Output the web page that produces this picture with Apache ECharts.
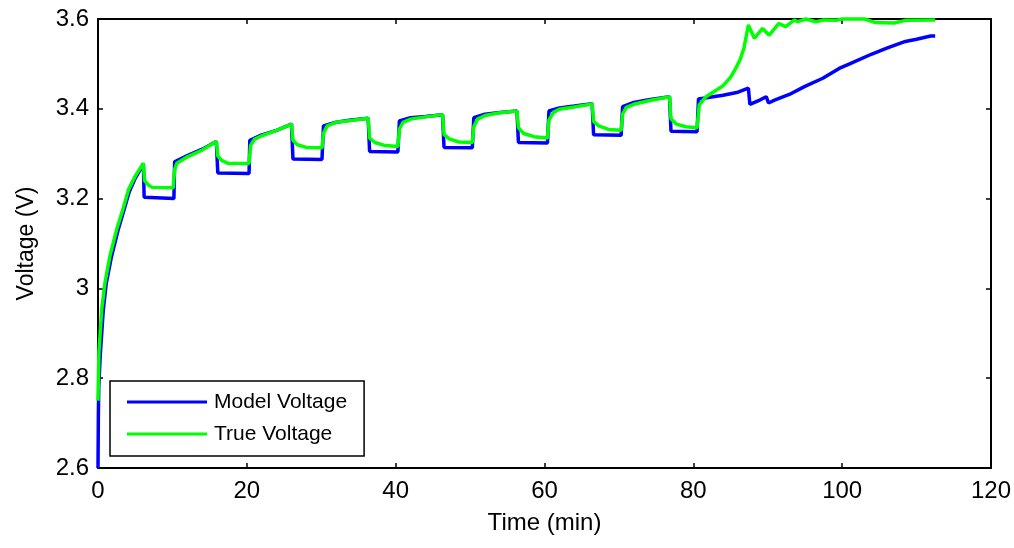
<!DOCTYPE html>
<html>
<head>
<meta charset="utf-8">
<script src="https://cdn.jsdelivr.net/npm/echarts@6/dist/echarts.min.js"></script>
<style>
html,body{margin:0;padding:0;background:#fff;}
#chart{width:1014px;height:548px;}
</style>
</head>
<body>
<div id="chart"></div>
<script>
// ---- Data ----
const seriesNames = ['Model Voltage', 'True Voltage'];

const modelTime = [0, 0.05, 0.1, 0.3, 0.7, 1.1, 1.8, 2.7, 3.5, 4.2, 5.0, 6.1,
  6.2, 10.2, 10.3, 12, 14, 15.9,
  16.1, 20.3, 20.4, 22, 24, 26,
  26.2, 30.1, 30.3, 32, 34, 36.3,
  36.5, 40.3, 40.5, 42, 44, 46.3,
  46.5, 50.3, 50.5, 52, 54, 56.3,
  56.5, 60.4, 60.6, 62, 64, 66.4,
  66.6, 70.3, 70.5, 72, 74, 76.8,
  77.0, 80.5, 80.7, 82, 84, 86, 87.4, 87.6, 89.0, 89.8, 90.1, 91, 92.9,
  95, 97.4, 99.6, 101, 104, 106, 108.5, 110, 111.9, 112.5];
const modelVolt = [2.6, 2.72, 2.78, 2.85, 2.95, 3.01, 3.07, 3.13, 3.175, 3.215, 3.245, 3.277,
  3.203, 3.2, 3.282, 3.296, 3.31, 3.327,
  3.257, 3.256, 3.33, 3.342, 3.352, 3.366,
  3.288, 3.287, 3.362, 3.37, 3.375, 3.379,
  3.305, 3.304, 3.373, 3.38, 3.383, 3.387,
  3.314, 3.313, 3.38, 3.388, 3.392, 3.395,
  3.325, 3.324, 3.395, 3.402, 3.406, 3.411,
  3.342, 3.341, 3.405, 3.414, 3.42, 3.427,
  3.35, 3.349, 3.422, 3.425, 3.43, 3.437, 3.446, 3.41, 3.42, 3.427, 3.413, 3.42, 3.432,
  3.45, 3.468, 3.49, 3.5, 3.522, 3.535, 3.55, 3.555, 3.562, 3.562];

const trueTime = [0, 0.13, 0.5, 0.94, 1.6, 2.5, 3.4, 4.1, 5, 6.1,
  6.25, 6.8, 7.3, 10.1, 10.3, 10.6, 12, 14, 15.9,
  16.1, 16.6, 17.4, 20.3, 20.5, 21, 22, 24, 26,
  26.2, 26.8, 28, 30.1, 30.3, 30.8, 32, 34, 36.3,
  36.5, 37.2, 38.6, 40.3, 40.5, 41, 42, 44, 46.3,
  46.5, 47.2, 48.5, 50.3, 50.5, 51, 52, 54, 56.3,
  56.5, 57.2, 58.6, 60.4, 60.6, 61.2, 62, 64, 66.4,
  66.6, 67.3, 68.6, 70.3, 70.5, 71, 72, 74, 76.8,
  77.0, 77.7, 79, 80.5, 80.8, 81.7, 83.9, 85, 85.7, 86.3, 86.8, 87.4,
  88.2, 89.3, 90.2, 91.5, 92.4, 93.6, 94.0, 95.1, 96.5, 97.5, 99.2, 100,
  103, 104.5, 107, 108.5, 112.5];
const trueVolt = [2.75, 2.86, 2.953, 3.013, 3.072, 3.131, 3.179, 3.22, 3.25, 3.279,
  3.24, 3.23, 3.225, 3.224, 3.265, 3.279, 3.293, 3.308, 3.327,
  3.295, 3.285, 3.279, 3.278, 3.318, 3.332, 3.34, 3.352, 3.366,
  3.33, 3.32, 3.314, 3.313, 3.345, 3.362, 3.37, 3.374, 3.379,
  3.335, 3.325, 3.318, 3.316, 3.355, 3.37, 3.377, 3.382, 3.387,
  3.343, 3.333, 3.326, 3.325, 3.36, 3.377, 3.385, 3.391, 3.395,
  3.358, 3.345, 3.338, 3.335, 3.375, 3.392, 3.399, 3.404, 3.411,
  3.372, 3.362, 3.354, 3.352, 3.388, 3.403, 3.41, 3.418, 3.427,
  3.378, 3.366, 3.36, 3.358, 3.409, 3.427, 3.45, 3.47, 3.49, 3.51, 3.535, 3.587,
  3.557, 3.579, 3.564, 3.59, 3.583, 3.598, 3.594, 3.6, 3.594, 3.598, 3.597, 3.6,
  3.6, 3.592, 3.591, 3.597, 3.598];

const xMin = 0, xMax = 120, xStep = 20;
const yMin = 2.6, yMax = 3.6, yStep = 0.2;

// ---- Build chart ----
const zip = (a, b) => a.map((v, i) => [v, b[i]]);
const font = 'Liberation Sans, Arial, Helvetica, sans-serif';
const chart = echarts.init(document.getElementById('chart'), null, {renderer: 'canvas'});

const axisCommon = {
  axisLine: {show: true, onZero: false, lineStyle: {color: '#000', width: 2}},
  axisTick: {show: true, inside: true, length: 5, lineStyle: {color: '#000', width: 1.5}},
  splitLine: {show: false}
};

chart.setOption({
  animation: false,
  backgroundColor: '#fff',
  textStyle: {fontFamily: font, color: '#000'},
  grid: {left: 98, right: 22, top: 19, bottom: 80, containLabel: false},
  legend: {
    data: seriesNames,
    orient: 'vertical',
    left: 110, top: 381,
    icon: 'rect',
    itemWidth: 80, itemHeight: 3,
    itemGap: 10,
    borderColor: '#000', borderWidth: 1.5,
    padding: [10, 17, 11, 17],
    textStyle: {fontFamily: font, fontSize: 21, lineHeight: 22, color: '#000', padding: [0, 0, 0, 2]}
  },
  xAxis: [
    Object.assign({
      type: 'value', min: xMin, max: xMax, interval: xStep, position: 'bottom',
      name: 'Time (min)', nameLocation: 'middle', nameGap: 43,
      nameTextStyle: {fontFamily: font, fontSize: 24, color: '#000'},
      axisLabel: {fontFamily: font, fontSize: 24, color: '#000', margin: 11}
    }, axisCommon),
    Object.assign({
      type: 'value', min: xMin, max: xMax, interval: xStep, position: 'top',
      axisLabel: {show: false}
    }, axisCommon)
  ],
  yAxis: [
    Object.assign({
      type: 'value', min: yMin, max: yMax, interval: yStep, position: 'left',
      name: 'Voltage (V)', nameLocation: 'middle', nameGap: 60,
      nameTextStyle: {fontFamily: font, fontSize: 23, color: '#000'},
      axisLabel: {fontFamily: font, fontSize: 24, color: '#000', margin: 9}
    }, axisCommon),
    Object.assign({
      type: 'value', min: yMin, max: yMax, interval: yStep, position: 'right',
      axisLabel: {show: false}
    }, axisCommon)
  ],
  series: [
    {
      name: seriesNames[0], type: 'line', data: zip(modelTime, modelVolt),
      showSymbol: false, symbol: 'none', clip: false,
      lineStyle: {color: '#0000ff', width: 3.5}, itemStyle: {color: '#0000ff'}
    },
    {
      name: seriesNames[1], type: 'line', data: zip(trueTime, trueVolt),
      showSymbol: false, symbol: 'none', clip: false,
      lineStyle: {color: '#00ff00', width: 3.5}, itemStyle: {color: '#00ff00'}
    }
  ]
});
</script>
</body>
</html>
